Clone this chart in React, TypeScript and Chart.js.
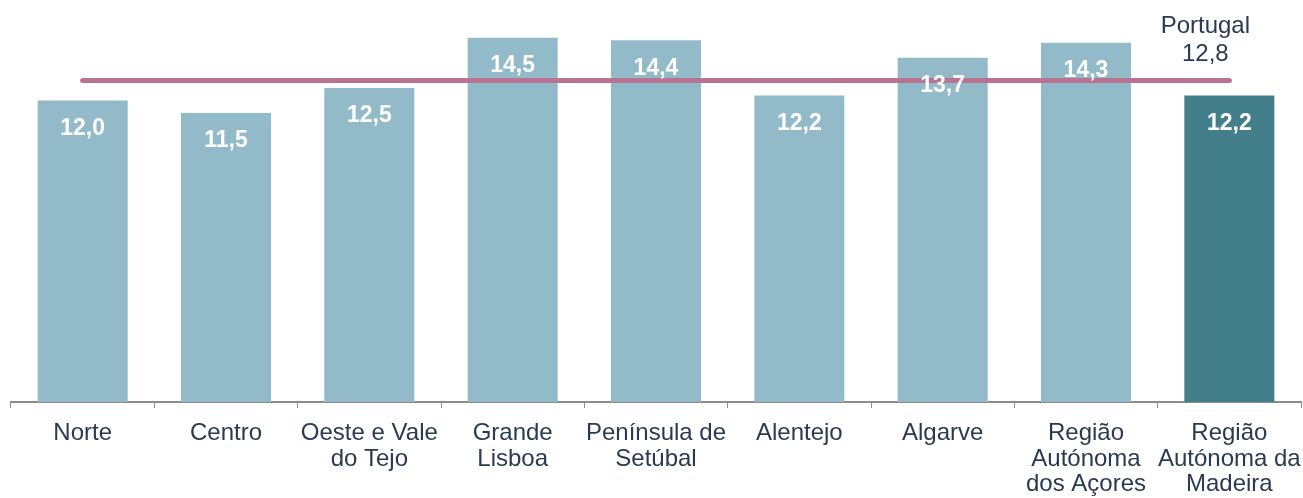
import React, { useEffect, useRef } from "react";
import { Chart, registerables } from "chart.js";

Chart.register(...registerables);

const categories: (string | string[])[] = [
  "Norte",
  "Centro",
  ["Oeste e Vale", "do Tejo"],
  ["Grande", "Lisboa"],
  ["Península de", "Setúbal"],
  "Alentejo",
  "Algarve",
  ["Região", "Autónoma", "dos Açores"],
  ["Região", "Autónoma da", "Madeira"],
];
const values = [12.0, 11.5, 12.5, 14.5, 14.4, 12.2, 13.7, 14.3, 12.2];
const portugalValue = 12.8;
const portugalLabel = "Portugal";
const barColors = [
  "#93bac8", "#93bac8", "#93bac8", "#93bac8", "#93bac8",
  "#93bac8", "#93bac8", "#93bac8", "#427f8a",
];

const FONT = "'Liberation Sans', Arial, sans-serif";
const fmt = (v: number) => v.toFixed(1).replace(".", ",");

export default function App() {
  const ref = useRef<HTMLCanvasElement>(null);
  useEffect(() => {
    document.body.style.margin = "0";
    const labelsPlugin = {
      id: "labels",
      afterDatasetsDraw(chart: any) {
        const ctx = chart.ctx;
        const meta = chart.getDatasetMeta(0);
        ctx.save();
        ctx.fillStyle = "#ffffff";
        ctx.font = `bold 23px ${FONT}`;
        ctx.textAlign = "center";
        ctx.textBaseline = "middle";
        meta.data.forEach((el: any, i: number) => {
          ctx.fillText(fmt(values[i]), el.x, el.y + 28);
        });
        const lm = chart.getDatasetMeta(1);
        const last = lm.data[lm.data.length - 1];
        ctx.fillStyle = "#2a3a50";
        ctx.font = `24px ${FONT}`;
        ctx.fillText(portugalLabel, last.x - 24, 26);
        ctx.fillText(fmt(portugalValue), last.x - 24, 54);
        ctx.restore();
      },
    };
    const chart = new Chart(ref.current!, {
      data: {
        labels: categories,
        datasets: [
          {
            type: "bar",
            data: values,
            backgroundColor: barColors,
            categoryPercentage: 1,
            barPercentage: 0.628,
            order: 1,
          },
          {
            type: "line",
            data: categories.map(() => portugalValue),
            borderColor: "#b7738f",
            borderWidth: 5,
            borderCapStyle: "round",
            pointRadius: 0,
            order: 0,
          },
        ],
      } as any,
      options: {
        animation: false,
        responsive: false,
        layout: { padding: { left: 11, right: 2, top: 0, bottom: 0 } },
        plugins: { legend: { display: false }, tooltip: { enabled: false } },
        scales: {
          x: {
            offset: true,
            afterFit: (scale: any) => {
              scale.height = 96;
              scale.paddingLeft = 0;
              scale.paddingRight = 0;
            },
            grid: {
              display: true,
              drawOnChartArea: false,
              drawTicks: true,
              tickLength: 6,
              color: "#8c8c8c",
              offset: true,
            },
            border: { color: "#8c8c8c", width: 2 },
            ticks: {
              color: "#2a3a50",
              font: { family: FONT, size: 24, lineHeight: 1.06 },
              padding: 13,
              maxRotation: 0,
              autoSkip: false,
            },
          },
          y: { display: false, min: 0, max: 16 },
        },
      } as any,
      plugins: [labelsPlugin],
    });
    return () => chart.destroy();
  }, []);
  return (
    <div style={{ position: "absolute", left: 0, top: 0, width: 1303, height: 498 }}>
      <canvas ref={ref} width={1303} height={498} />
    </div>
  );
}
